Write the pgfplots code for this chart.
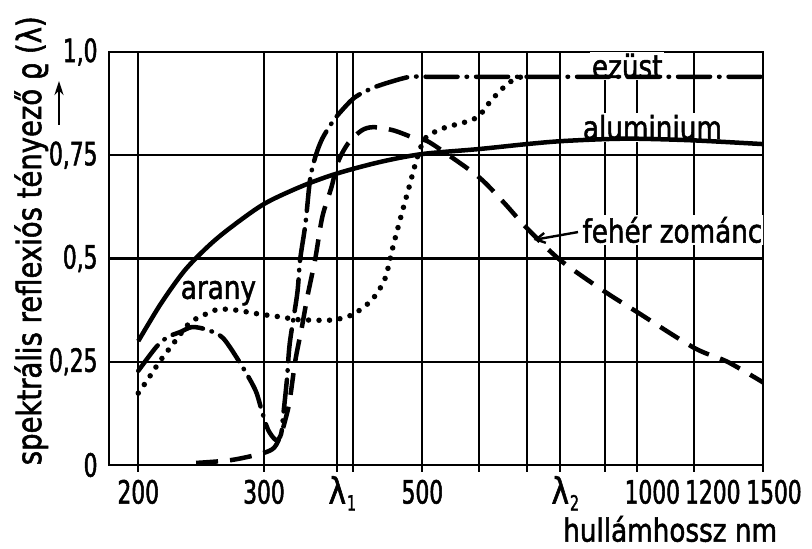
\documentclass[border=0pt]{standalone}
\usepackage{fontspec}
\setmainfont{DejaVu Sans}[FakeStretch=0.82, FakeBold=1.6]
\newfontfamily\numfont{DejaVu Sans}[FakeStretch=0.68, FakeBold=1.6]
\usepackage{pgfplots}
\pgfplotsset{compat=1.18}
\usetikzlibrary{arrows.meta}
\newcommand\lab{\fontsize{32}{38}\selectfont}
\newcommand\num{\numfont\fontsize{32}{38}\selectfont}
\newcommand\lam[1]{{\fontsize{36}{38}\selectfont\rmfamily λ}\rlap{\hspace{1pt}\raisebox{-7pt}{\num\fontsize{21}{23}\selectfont #1}}}
\begin{document}
\begin{tikzpicture}
\path[use as bounding box] (0pt,0pt) rectangle (812pt,549pt);
\draw[line width=2.8pt,-{Stealth[length=14pt,width=9pt]}] (59pt,424pt) -- (59pt,468pt);
\begin{axis}[
  at={(109pt,84pt)}, anchor=south west,
  width=654pt, height=413pt, scale only axis,
  xmode=log, xmin=182, xmax=1500, ymin=0, ymax=1,
  xtick={200,300,380,400,500,600,700,780,900,1000,1200,1500},
  xticklabels={200,300,\lam{1},,500,,,\lam{2},,\hspace*{30pt}1000,\hspace*{38pt}1200,\hspace*{22pt}1500},
  ytick={0,0.25,0.5,0.75,1},
  yticklabels={0,{0,25},{0,5},{0,75},{1,0}},
  grid=major,
  grid style={black, line width=2.2pt},
  axis line style={black, line width=2.8pt},
  tick align=outside,
  xtick pos=bottom,
  major tick length=7pt,
  xtick style={black, line width=2.2pt},
  ytick style={draw=none},
  xticklabel style={font=\num, text height=23pt, text depth=7pt, anchor=north, yshift=-5pt},
  yticklabel style={font=\num, anchor=east, xshift=-1pt},
  xlabel={hullámhossz nm},
  xlabel style={font=\lab, at={(axis description cs:0.858,-0.155)}, anchor=center},
  ylabel={spektrális reflexiós tényező ϱ (λ)},
  ylabel style={font=\fontsize{33.5}{38}\selectfont, at={(axis description cs:-0.119,0.543)}, anchor=center},
  every axis plot/.append style={black, line width=4.5pt},
]
\node[fill=white, inner sep=2pt, font=\lab] at (axis cs:968,0.966) {ezüst};
\node[fill=white, inner sep=2pt, font=\lab] at (axis cs:1050,0.818) {aluminium};
\node[fill=white, inner sep=2pt, font=\lab] at (axis cs:1120,0.569) {fehér zománc};
\node[fill=white, inner sep=2pt, font=\lab] at (axis cs:259,0.416) {arany};
\draw[black, line width=2.4pt, -{Straight Barb[length=9pt,width=10pt]}] (axis cs:826,0.564) -- (axis cs:716,0.545);

% aluminium
\addplot[solid, smooth] coordinates {
(200,0.30) (215,0.39) (232,0.47) (250,0.528) (268,0.572) (300,0.632) (340,0.676) (380,0.706) (437,0.734) (500,0.753) (600,0.765) (700,0.777) (780,0.784) (900,0.789) (1000,0.79) (1200,0.786) (1500,0.777)
};
% ezust
\addplot[smooth, tension=0.5, line cap=round, dash pattern=on 32pt off 9pt on 0.5pt off 9pt] coordinates {
(200,0.228) (212,0.286) (220,0.31) (229,0.322) (238,0.334) (250,0.327) (263,0.307) (280,0.237) (292,0.18) (298,0.13) (304,0.085) (312,0.06) (317,0.075) (319,0.116) (323,0.206) (326,0.295) (334,0.416) (337,0.496) (343,0.585) (348,0.69) (354,0.746) (362,0.79) (374,0.83) (384,0.855) (402,0.89) (426,0.913) (452,0.928) (481,0.94) (514,0.94) (700,0.94) (1000,0.94) (1500,0.94)
};
% arany
\addplot[smooth, tension=0.5, line cap=round, line width=5.5pt, dash pattern=on 0pt off 10.5pt] coordinates {
(200,0.174) (206,0.206) (215,0.254) (226,0.303) (236,0.344) (247,0.363) (259,0.377) (274,0.375) (294,0.366) (318,0.358) (335,0.352) (374,0.351) (398,0.363) (412,0.38) (425,0.40) (437,0.43) (445,0.46) (455,0.53) (468,0.61) (479,0.673) (489,0.73) (497,0.768) (507,0.795) (536,0.816) (594,0.84) (625,0.884) (655,0.92) (675,0.935) (690,0.94)
};
% feher zomanc
\addplot[smooth, tension=0.5, dash pattern=on 22pt off 12pt] coordinates {
(241,0.005) (270,0.012) (298,0.028) (310,0.042) (317,0.075) (322,0.115) (326,0.157) (332,0.254) (339,0.334) (345,0.407) (354,0.50) (362,0.60) (373,0.673) (381,0.734) (394,0.78) (411,0.81) (427,0.818) (456,0.81) (490,0.79) (507,0.785) (536,0.758) (600,0.697) (649,0.637) (700,0.574) (780,0.496) (900,0.42) (1000,0.37) (1200,0.284) (1337,0.25) (1500,0.2)
};
\end{axis}
\end{tikzpicture}
\end{document}
